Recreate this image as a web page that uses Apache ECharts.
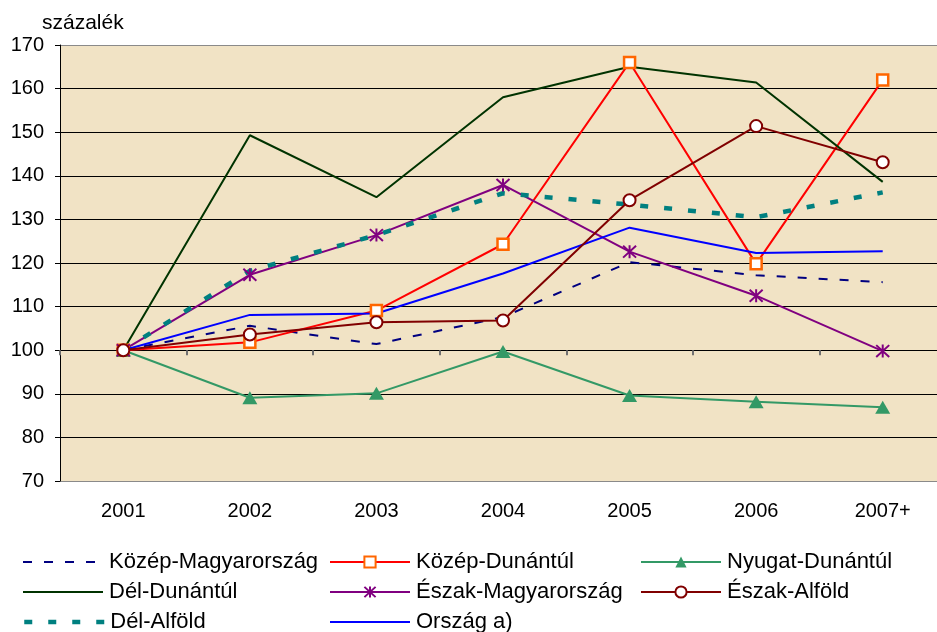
<!DOCTYPE html>
<html>
<head>
<meta charset="utf-8">
<script src="https://cdn.jsdelivr.net/npm/echarts@6/dist/echarts.min.js"></script>
<style>
html,body{margin:0;padding:0;background:#fff;overflow:hidden;}
#chart{width:946px;height:632px;}
</style>
</head>
<body>
<div id="chart"></div>
<script>
var categories = ['2001', '2002', '2003', '2004', '2005', '2006', '2007+'];
var kozepMagyarorszag = [100, 105.6, 101.4, 107.6, 120.2, 117.2, 115.6];
var kozepDunantul = [100, 101.8, 109.1, 124.3, 166, 119.8, 162];
var nyugatDunantul = [100, 89.1, 90.1, 99.7, 89.6, 88.2, 86.9];
var delDunantul = [100, 149.3, 135.1, 158, 165, 161.4, 138.6];
var eszakMagyarorszag = [100, 117.3, 126.4, 137.9, 122.6, 112.5, 99.8];
var eszakAlfold = [100, 103.6, 106.4, 106.8, 134.4, 151.4, 143.1];
var delAlfold = [100, 118.2, 126.4, 136, 133.4, 130.5, 136.2];
var orszag = [100, 108.1, 108.4, 117.6, 128.1, 122.3, 122.7];
var yTicks = [70, 80, 90, 100, 110, 120, 130, 140, 150, 160, 170];

var FONT = '"Liberation Sans", Arial, sans-serif';
var chart = echarts.init(document.getElementById('chart'), null, {renderer: 'canvas'});

var splitColors = yTicks.map(function (v, i) { return (i === 0 || i === yTicks.length - 1) ? '#8a8a8a' : '#000000'; });
var asterisk = 'path://M0,-6L0,6M-5.5,-5.5L5.5,5.5M-5.5,5.5L5.5,-5.5';
var noSymbol = {color: 'rgba(0,0,0,0)', borderColor: 'rgba(0,0,0,0)', borderWidth: 0};

var navyDash = {color: '#000080', width: 2, type: [9, 12]};
var tealDash = {color: '#008080', width: 4.5, type: [8, 16]};

// legend positions: [name, left, rowIndex, hideSymbol, lineStyle]
var legendItems = [
  ['Közép-Magyarország', 17, 0, true, navyDash],
  ['Dél-Dunántúl', 17, 1, true, null],
  ['Dél-Alföld', 17, 2, true, tealDash],
  ['Közép-Dunántúl', 324, 0, false, null],
  ['Észak-Magyarország', 324, 1, false, null],
  ['Ország a)', 324, 2, true, null],
  ['Nyugat-Dunántúl', 635, 0, false, null],
  ['Észak-Alföld', 635, 1, false, null]
];

var legends = legendItems.map(function (it) {
  var d = {name: it[0]};
  if (it[3]) d.itemStyle = noSymbol;
  if (it[4]) d.lineStyle = it[4];
  return {
    orient: 'horizontal', left: it[1], top: 546 + it[2] * 30,
    itemWidth: 80, itemHeight: 14, itemGap: 0,
    data: [d],
    textStyle: {fontFamily: FONT, fontSize: 22, color: '#000', padding: [0, 0, 0, 1]}
  };
});

var option = {
  backgroundColor: '#ffffff',
  animation: false,
  title: {
    text: 'százalék', left: 37, top: 8,
    textStyle: {fontFamily: FONT, fontSize: 21, fontWeight: 'normal', color: '#000'}
  },
  grid: {
    left: 60, top: 45, right: 0, bottom: 151,
    show: true, backgroundColor: '#F1E3C5', borderWidth: 0
  },
  legend: legends,
  xAxis: [{
    type: 'category', data: categories, boundaryGap: true,
    axisLine: {show: false}, axisTick: {show: false},
    axisLabel: {fontFamily: FONT, fontSize: 20, color: '#000', margin: 20}
  }, {
    type: 'category', data: categories, boundaryGap: true, position: 'bottom', offset: -130.8,
    axisLine: {show: false},
    axisTick: {show: true, length: 5, lineStyle: {color: '#707070', width: 2}},
    axisLabel: {show: false}
  }],
  yAxis: {
    type: 'value', min: 70, max: 170, interval: 10,
    axisLine: {show: true, lineStyle: {color: '#000', width: 1}},
    axisTick: {show: true, length: 5, lineStyle: {color: '#000'}},
    axisLabel: {fontFamily: FONT, fontSize: 20, color: '#000', margin: 16},
    splitLine: {show: true, lineStyle: {color: splitColors, width: 1}}
  },
  series: [
    {name: 'Közép-Magyarország', type: 'line', data: kozepMagyarorszag, symbol: 'none',
     lineStyle: navyDash, itemStyle: {color: '#000080'}},
    {name: 'Közép-Dunántúl', type: 'line', data: kozepDunantul, symbol: 'rect', symbolSize: 11,
     lineStyle: {color: '#FF0000', width: 2},
     itemStyle: {color: '#FFFFFF', borderColor: '#FF6600', borderWidth: 2.5}},
    {name: 'Nyugat-Dunántúl', type: 'line', data: nyugatDunantul, symbol: 'triangle', symbolSize: [15, 13],
     lineStyle: {color: '#339966', width: 2},
     itemStyle: {color: '#339966'}},
    {name: 'Dél-Dunántúl', type: 'line', data: delDunantul, symbol: 'none',
     lineStyle: {color: '#003300', width: 2}, itemStyle: {color: '#003300'}},
    {name: 'Észak-Magyarország', type: 'line', data: eszakMagyarorszag, symbol: asterisk, symbolSize: 13,
     lineStyle: {color: '#800080', width: 2},
     itemStyle: {color: 'rgba(0,0,0,0)', borderColor: '#800080', borderWidth: 2}},
    {name: 'Dél-Alföld', type: 'line', data: delAlfold, symbol: 'none',
     lineStyle: tealDash, itemStyle: {color: '#008080'}},
    {name: 'Ország a)', type: 'line', data: orszag, symbol: 'none',
     lineStyle: {color: '#0000FF', width: 2}, itemStyle: {color: '#0000FF'}},
    {name: 'Észak-Alföld', type: 'line', data: eszakAlfold, symbol: 'circle', symbolSize: 12, z: 5,
     lineStyle: {color: '#800000', width: 2},
     itemStyle: {color: '#FFFFFF', borderColor: '#800000', borderWidth: 2}}
  ]
};
chart.setOption(option);
</script>
</body>
</html>
